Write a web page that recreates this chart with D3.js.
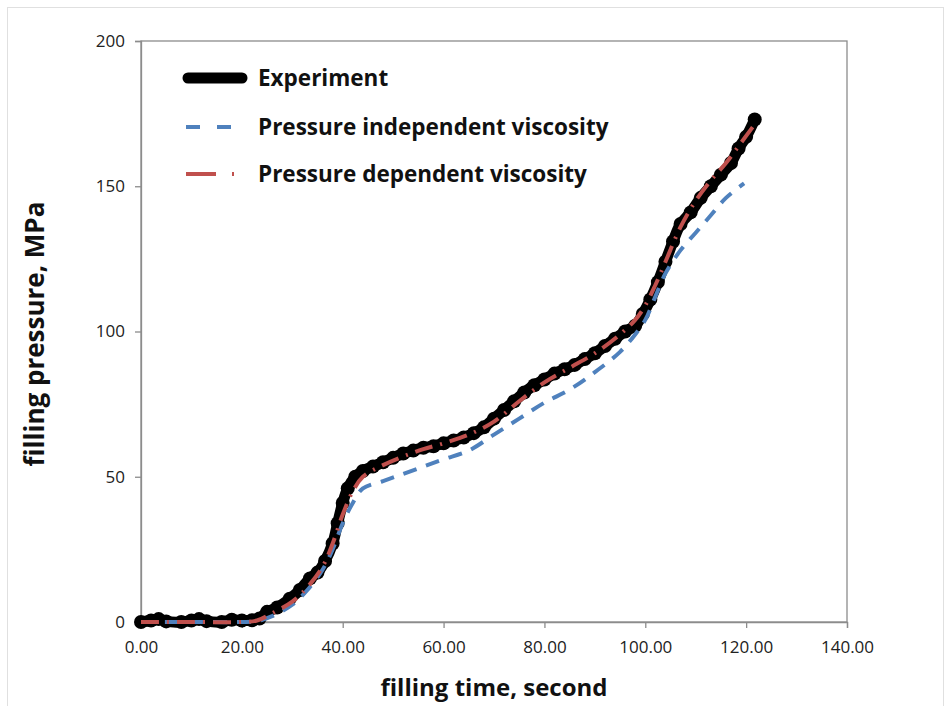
<!DOCTYPE html>
<html><head><meta charset="utf-8">
<script src="https://cdn.jsdelivr.net/npm/d3@7"></script>
<style>body{margin:0;background:#fff}svg{display:block}</style>
</head><body>
<script>
const xTicks = [0,20,40,60,80,100,120,140];
const yTicks = [0,50,100,150,200];
const expX = [0,2,3.5,5,8,10,11.5,13,16,18,20,22,23.5,25,27,29.5,31.5,33.5,35,36.5,38,39,40,41,42.5,44,46,48,50,52,54,56,58,60,62,64,66,68,70,72,74,76,78,80,82,84,86,88,90,92,94,96,98,99.5,101,102.5,104,105.5,107,109,111,113,115,117,118.5,120,121.7];
const expY = [0,0.5,1,0.2,0,0.5,1,0.3,0,0.8,0.5,0.6,1.2,3.5,5,8,11,15,17,21,27,34,41,46,50,52,53.5,55,56.5,58,59,60,60.5,61.5,62.5,63.5,65,67,70,73,76,79,81.5,83.5,85.5,87,88.5,90.5,92.5,95,97.5,100,102,106,111,117,124,131,137,141,146,150,154,158,163,167,173];
const indX = [0,10,20,23,26,30,33,36,38,40,42,44,48,52,56,60,65,70,75,80,85,90,95,98,100,102,104,107,110,113,116,119.6];
const indY = [0,0,0,0.3,2,6,11,18,25,34,41,46,48.5,51,53.5,56,59,64.5,70,75.5,80,86,93,99,104,112,120,128,134,140,146,151];
const depX = [0,10,20,23,26,30,33,36,38,40,42,44,48,52,56,60,65,70,75,80,85,90,95,98,100,102,104,107,110,113,116,119,122];
const depY = [0,0,0,0.5,3,7,12,19,27,37,45,50,54,57,59.5,61.5,64.5,69,76,82.5,87.5,92.5,99,104,109,116,124,136,145,152,158,165,172];

const W=951,H=706, L=141, R=847, T=41, B=622;
const svg=d3.select("body").append("svg").attr("width",W).attr("height",H);
svg.append("rect").attr("x",7.5).attr("y",7.5).attr("width",936).attr("height",705).attr("fill","#fff").attr("stroke","#e0e0e0");
const x=d3.scaleLinear().domain([0,140]).range([L,R]);
const y=d3.scaleLinear().domain([0,200]).range([B,T]);
const F="'Open Sans', sans-serif";

svg.append("rect").attr("x",L).attr("y",T).attr("width",R-L).attr("height",B-T).attr("fill","none").attr("stroke","#8c8c8c").attr("stroke-width",1.3);
const xa=svg.append("g").attr("transform",`translate(0,${B})`).call(d3.axisBottom(x).tickValues(xTicks).tickFormat(d3.format(".2f")).tickSize(6).tickPadding(13));
const ya=svg.append("g").attr("transform",`translate(${L},0)`).call(d3.axisLeft(y).tickValues(yTicks).tickSize(6).tickPadding(10));
[xa,ya].forEach(a=>{a.select(".domain").attr("stroke","#8c8c8c").attr("stroke-width",1.3);a.selectAll(".tick line").attr("stroke","#8c8c8c").attr("stroke-width",1.3);a.selectAll("text").attr("font-family",F).attr("font-size",17).attr("fill","#222");});

const line=d3.line().x(d=>x(d[0])).y(d=>y(d[1])).curve(d3.curveCatmullRom);
const exp=d3.zip(expX,expY), ind=d3.zip(indX,indY), dep=d3.zip(depX,depY);
svg.append("path").datum(exp).attr("d",line).attr("fill","none").attr("stroke","#000").attr("stroke-width",11).attr("stroke-linecap","round").attr("stroke-linejoin","round");
svg.selectAll("circle.e").data(exp).enter().append("circle").attr("cx",d=>x(d[0])).attr("cy",d=>y(d[1])).attr("r",7).attr("fill","#000");
svg.append("path").datum(ind).attr("d",line).attr("fill","none").attr("stroke","#4f81bd").attr("stroke-width",4).attr("stroke-dasharray","14,10");
svg.append("path").datum(dep).attr("d",line).attr("fill","none").attr("stroke","#c0504d").attr("stroke-width",4).attr("stroke-dasharray","18,8,2,8");

const leg=[{t:"Experiment",y:78,c:"#000",w:11,da:null},{t:"Pressure independent viscosity",y:127,c:"#4f81bd",w:4,da:"14,17"},{t:"Pressure dependent viscosity",y:174,c:"#c0504d",w:4,da:"30,16,2,20"}];
leg.forEach(l=>{
  const p=svg.append("line").attr("x1",188).attr("x2",242).attr("y1",l.y).attr("y2",l.y).attr("stroke",l.c).attr("stroke-width",l.w).attr("stroke-linecap","round");
  if(l.da){p.attr("stroke-dasharray",l.da).attr("stroke-linecap","butt").attr("x1",186).attr("x2",l.c=="#4f81bd"?245:240);}
  svg.append("text").attr("x",258).attr("y",l.y+8).text(l.t).attr("font-family",F).attr("font-weight","bold").attr("font-size",22.5).attr("fill","#111");
});
svg.append("text").attr("x",494).attr("y",696).attr("text-anchor","middle").text("filling time, second").attr("font-family",F).attr("font-weight","bold").attr("font-size",24).attr("fill","#111");
svg.append("text").attr("transform","translate(44,334) rotate(-90)").attr("text-anchor","middle").text("filling pressure, MPa").attr("font-family",F).attr("font-weight","bold").attr("font-size",26).attr("fill","#111");
</script>
</body></html>
